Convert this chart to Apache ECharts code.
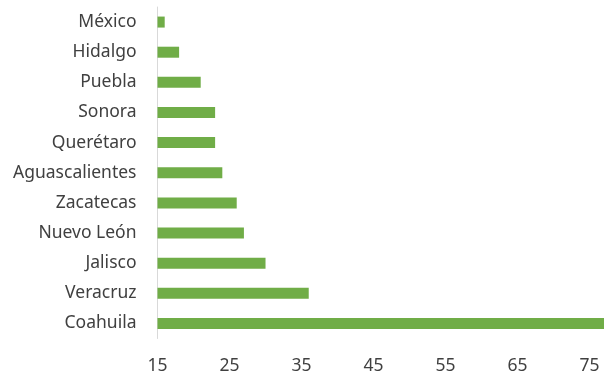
<!DOCTYPE html>
<html><head><meta charset="utf-8">
<script src="https://cdn.jsdelivr.net/npm/echarts@6/dist/echarts.min.js"></script>
<style>html,body{margin:0;padding:0;background:#fff}#c{width:604px;height:377px}</style>
</head><body><div id="c"></div>
<script>
const categories = ["Coahuila","Veracruz","Jalisco","Nuevo León","Zacatecas","Aguascalientes","Querétaro","Sonora","Puebla","Hidalgo","México"];
const values = [77,36,30,27,26,24,23,23,21,18,16];
const xMin = 15, xMax = 77, xStep = 10;

const chart = echarts.init(document.getElementById('c'), null, {renderer:'canvas'});
chart.setOption({
  animation:false,
  grid:{left:157.5, right:-3, top:7, bottom:38.5, containLabel:false},
  xAxis:{type:'value', min:xMin, max:xMax, interval:xStep,
    axisLine:{show:false}, axisTick:{show:false}, splitLine:{show:false},
    axisLabel:{color:'#404040', fontFamily:'Noto Sans', fontSize:17.5, margin:19, showMaxLabel:false}},
  yAxis:{type:'category', data:categories,
    axisLine:{show:true, lineStyle:{color:'#d9d9d9', width:1}}, axisTick:{show:false},
    axisLabel:{color:'#404040', fontFamily:'Noto Sans', fontSize:17.5, margin:21}},
  series:[{type:'bar', data:values, barWidth:11,
    itemStyle:{color:'#70ad47'}}]
});
</script></body></html>
